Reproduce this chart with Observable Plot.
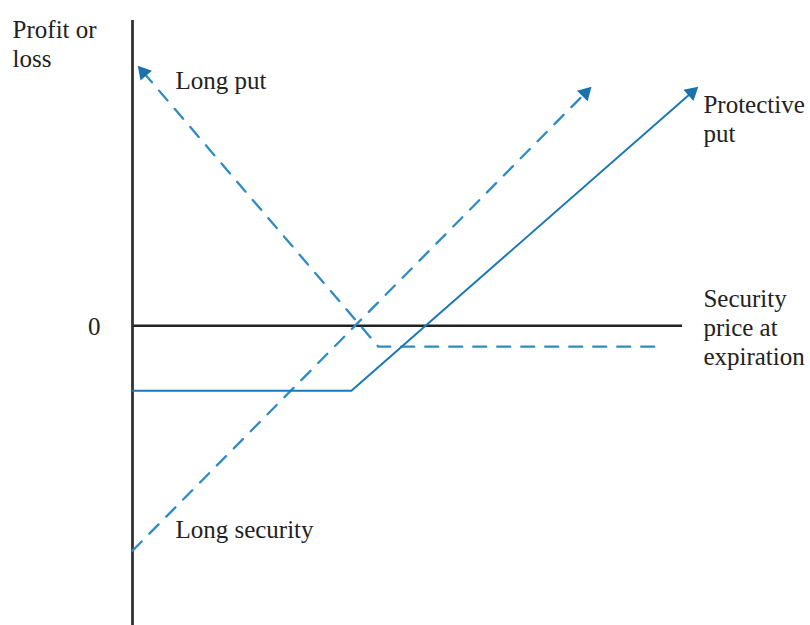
<!DOCTYPE html>
<html>
<head>
<meta charset="utf-8">
<script src="https://cdn.jsdelivr.net/npm/d3@7"></script>
<script src="https://cdn.jsdelivr.net/npm/@observablehq/plot@0.6"></script>
<style>
  html, body { margin: 0; padding: 0; background: #fff; }
  #chart svg { display: block; }
</style>
</head>
<body>
<div id="chart"></div>
<script>
// Payoff lines (x = security price at expiration, y = profit or loss), arbitrary units
const protectivePutX = [0, 39.8, 102.7];
const protectivePutY = [-11.8, -11.8, 43.3];
const longPutX = [1.1, 44.7, 96.4];
const longPutY = [47.1, -3.8, -3.8];
const longSecurityX = [0, 83.3];
const longSecurityY = [-40.9, 43.3];

// Annotation labels (data coordinates)
const labelText = ["Profit or\nloss", "Long put", "Protective\nput", "0", "Security\nprice at\nexpiration", "Long security"];
const labelX = [-21.8, 7.8, 103.8, -5.8, 103.8, 7.8];
const labelY = [56.0, 43.1, 42.4, 0, 7.1, -38.5];
const labelAnchor = ["start", "start", "start", "end", "start", "start"];
const labelLine = ["top", "bottom", "top", "middle", "top", "bottom"];

const W = 810, H = 625;
const mL = 132, mR = 128, mT = 20, mB = 0;
const xDomain = [0, 100], yDomain = [-54.5, 55.5];
const pxPerUnit = (W - mL - mR) / (xDomain[1] - xDomain[0]);

const toPts = (xs, ys) => xs.map((x, i) => ({x, y: ys[i]}));

// arrowhead at one end of the given polyline
function arrowAt(xs, ys, atStart) {
  const n = xs.length;
  const [i, j] = atStart ? [0, 1] : [n - 1, n - 2];
  const dx = xs[i] - xs[j], dy = ys[i] - ys[j];
  const len = Math.hypot(dx, dy);
  const back = 7.5 / pxPerUnit;
  const cx = xs[i] - dx / len * back, cy = ys[i] - dy / len * back;
  const rotate = Math.atan2(dx, dy) * 180 / Math.PI;
  return {x: cx, y: cy, rotate, tipIndex: i};
}
function trimmed(xs, ys, a) {
  const pts = toPts(xs, ys);
  pts[a.tipIndex] = {x: a.x, y: a.y};
  return pts;
}

const aPP = arrowAt(protectivePutX, protectivePutY, false);
const aLP = arrowAt(longPutX, longPutY, true);
const aLS = arrowAt(longSecurityX, longSecurityY, false);
const arrows = [aPP, aLP, aLS];

const labels = labelText.map((t, i) => ({t, x: labelX[i], y: labelY[i], anchor: labelAnchor[i], line: labelLine[i]}));

const dashColor = "#2e8bc4";
const solidColor = "#1b78b4";
const font = "'Liberation Serif', 'DejaVu Serif', serif";

const textMark = (anchor, line) => Plot.text(labels.filter(d => d.anchor === anchor && d.line === line), {
  x: "x", y: "y", text: "t", textAnchor: anchor, lineAnchor: line,
  fontSize: 25, lineHeight: 1.16, fill: "#222", fontFamily: font
});

const chart = Plot.plot({
  width: W, height: H,
  marginLeft: mL, marginRight: mR, marginTop: mT, marginBottom: mB,
  x: {domain: xDomain, axis: null},
  y: {domain: yDomain, axis: null},
  style: {fontFamily: font, background: "#fff"},
  marks: [
    Plot.ruleY([0], {x1: 0, x2: 100, stroke: "#222", strokeWidth: 2.5}),
    Plot.ruleX([0], {stroke: "#333", strokeWidth: 2.8}),
    Plot.line(trimmed(longSecurityX, longSecurityY, aLS), {x: "x", y: "y", stroke: dashColor, strokeWidth: 2.3, strokeDasharray: "13,11"}),
    Plot.line(trimmed(longPutX, longPutY, aLP), {x: "x", y: "y", stroke: dashColor, strokeWidth: 2.3, strokeDasharray: "13,11", strokeLinejoin: "round"}),
    Plot.line(trimmed(protectivePutX, protectivePutY, aPP), {x: "x", y: "y", stroke: solidColor, strokeWidth: 2, strokeLinejoin: "miter"}),
    Plot.dot(arrows, {x: "x", y: "y", symbol: "triangle", r: 5.6, rotate: "rotate", fill: "#1a72ad", stroke: "none"}),
    ...["start", "end"].flatMap(a => ["top", "bottom", "middle"].map(l => textMark(a, l)))
  ]
});
document.getElementById("chart").appendChild(chart);
</script>
</body>
</html>
